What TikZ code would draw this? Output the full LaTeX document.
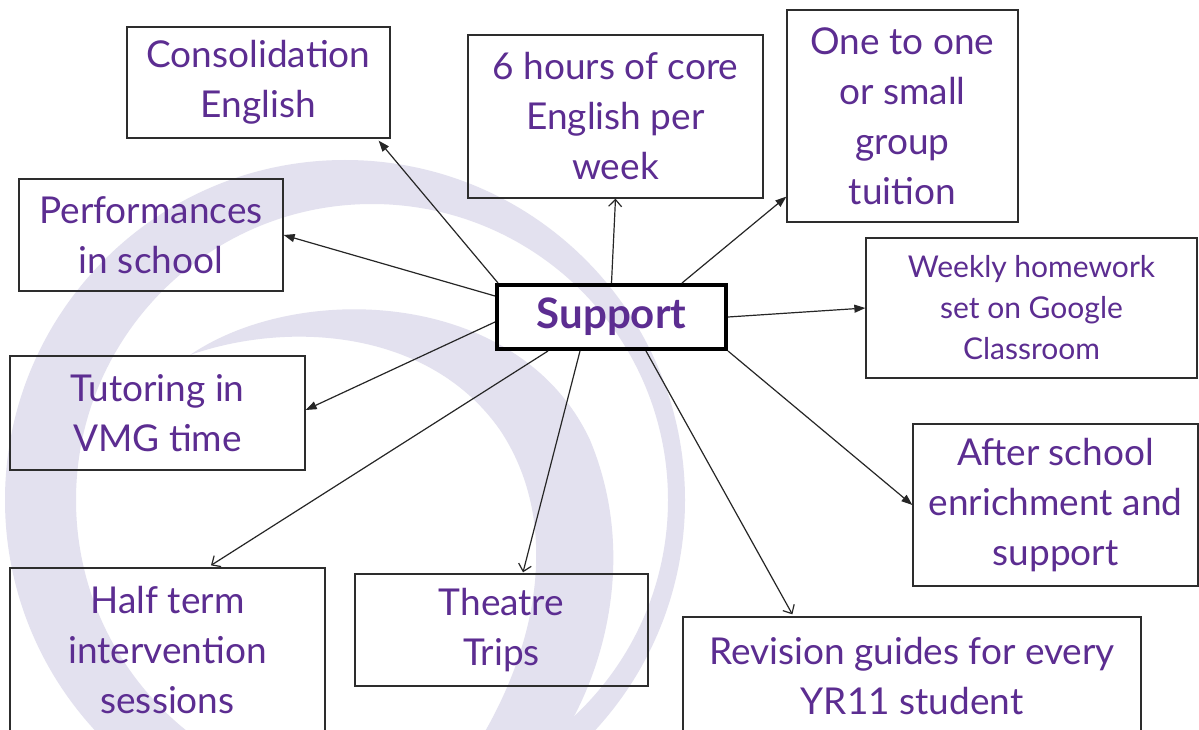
\documentclass[tikz,border=0pt]{standalone}
\usepackage{fontspec}
\setmainfont{Lato}
\usetikzlibrary{arrows.meta,calc}
\definecolor{txtpurple}{RGB}{92,45,145}
\definecolor{swirl}{RGB}{227,225,239}
\definecolor{boxline}{RGB}{45,45,45}
\tikzset{
  box/.style={draw=boxline, line width=1.3pt, rectangle, inner sep=0pt, align=center, text=txtpurple,
    font=\fontsize{37}{50}\selectfont},
  smallbox/.style={box, font=\fontsize{30}{41}\selectfont},
  centre/.style={draw=black, line width=4pt, rectangle, inner sep=0pt, text=txtpurple,
    font=\fontsize{42}{50}\selectfont\bfseries},
  fl/.style={-{Triangle[length=11pt,width=8pt]}, line width=1.2pt, draw=black!85},
  ol/.style={-{Straight Barb[length=7pt,width=13pt,line width=1.2pt]}, line width=1.2pt, draw=black!85}
}
\begin{document}
\begin{tikzpicture}[x=1pt,y=-1pt]
\useasboundingbox (0,0) rectangle (1199,730);
\fill[white] (0,0) rectangle (1199,730);
\begin{scope}
\clip (0,0) rectangle (1199,730);
% background swirl
\fill[swirl, even odd rule] (345,500) circle[radius=340] (372,500) circle[radius=296];
\fill[swirl] (190,355) .. controls (300,280) and (520,290) .. (590,440)
   .. controls (640,560) and (600,680) .. (560,740) -- (480,740)
   .. controls (540,640) and (560,520) .. (500,430)
   .. controls (430,330) and (290,320) .. (190,355) -- cycle;
\end{scope}
% nodes
\node[box, minimum width=263, minimum height=111] (cons) at (258.5,82.5) {Consolidation\\English};
\node[box, minimum width=295, minimum height=163] (six) at (615.5,116.5) {6 hours of core\\English per\\week};
\node[box, minimum width=231, minimum height=212] (one) at (902.5,116) {One to one\\or small\\group\\tuition};
\node[box, minimum width=264, minimum height=112] (perf) at (151,235) {Performances\\in school};
\node[smallbox, minimum width=331, minimum height=140] (week) at (1031.5,308) {Weekly homework\\set on Google\\Classroom};
\node[centre, minimum width=229, minimum height=64] (sup) at (611.5,317) {Support};
\node[box, minimum width=295, minimum height=114] (tut) at (157.5,413) {Tutoring in\\VMG time};
\node[box, minimum width=285, minimum height=162] (after) at (1055.5,505) {After school\\enrichment and\\support};
\node[box, minimum width=315, minimum height=164] (half) at (167.5,650) {Half term\\intervention\\sessions};
\node[box, minimum width=293, minimum height=112] (theat) at (501.5,630) {Theatre\\Trips};
\node[box, minimum width=458, minimum height=118] (rev) at (912,676) {Revision guides for every\\YR11 student};
% connectors
\draw[fl] ($(sup.north west)+(3,0)$) -- ($(cons.south east)+(-12,2)$);
\draw[ol] (sup.north) -- (six.south);
\draw[fl] ($(sup.north east)+(-46,0)$) -- ($(one.south west)+(0,-26)$);
\draw[fl] ($(sup.north west)+(0,13)$) -- (perf.east);
\draw[fl] (sup.east) -- (week.west);
\draw[fl] ($(sup.west)+(0,5)$) -- ($(tut.east)+(0,-3)$);
\draw[fl] (sup.south east) -- (after.west);
\draw[ol] ($(sup.south west)+(53,0)$) -- ($(half.north)+(43.5,-2)$);
\draw[ol] ($(sup.south west)+(85,0)$) -- ($(theat.north)+(21.5,-1)$);
\draw[ol] ($(sup.south west)+(151,0)$) -- ($(rev.north west)+(110,-2)$);
\end{tikzpicture}
\end{document}
